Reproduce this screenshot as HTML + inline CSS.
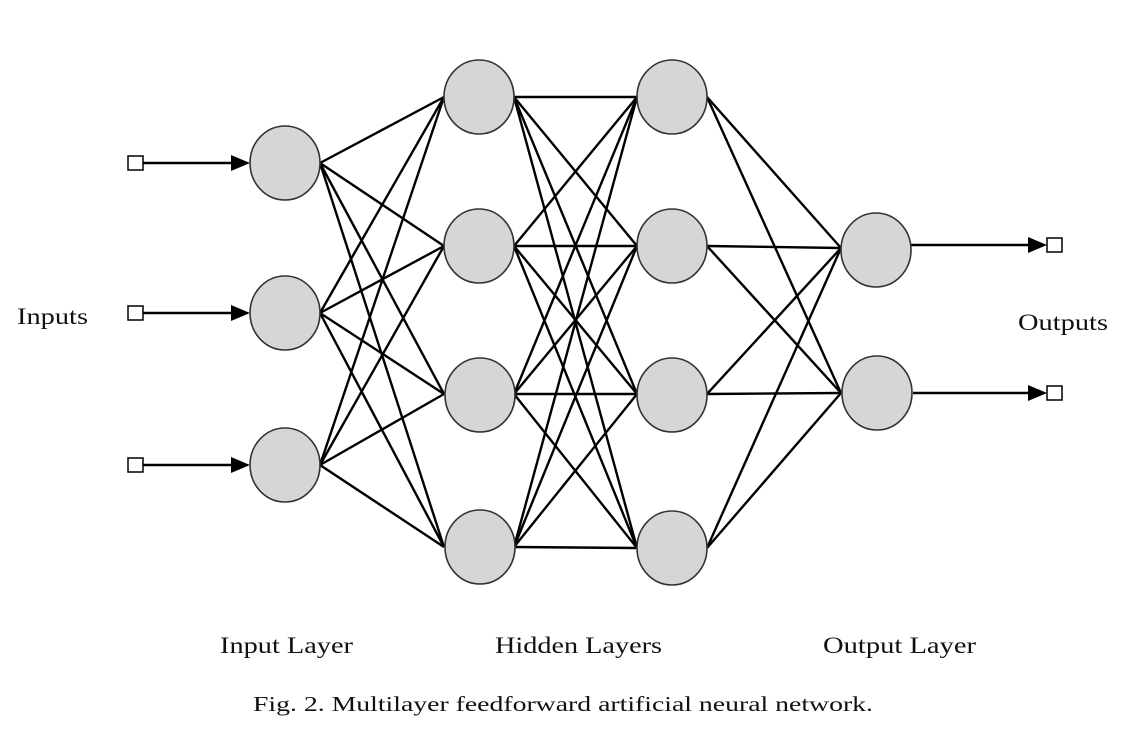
<!DOCTYPE html>
<html><head><meta charset="utf-8"><style>
html,body{margin:0;padding:0;background:#fff;}
svg{display:block;}
text{font-family:"Liberation Serif",serif;fill:#111;}
</style></head><body>
<svg width="1142" height="751" viewBox="0 0 1142 751" xmlns="http://www.w3.org/2000/svg">
<g stroke="#000" stroke-width="2.4" fill="none">
<!-- input -> hidden1 -->
<line x1="320" y1="163" x2="444" y2="97"/><line x1="320" y1="163" x2="444" y2="246"/><line x1="320" y1="163" x2="444" y2="394"/><line x1="320" y1="163" x2="444" y2="547"/>
<line x1="320" y1="313" x2="444" y2="97"/><line x1="320" y1="313" x2="444" y2="246"/><line x1="320" y1="313" x2="444" y2="394"/><line x1="320" y1="313" x2="444" y2="547"/>
<line x1="320" y1="465" x2="444" y2="97"/><line x1="320" y1="465" x2="444" y2="246"/><line x1="320" y1="465" x2="444" y2="394"/><line x1="320" y1="465" x2="444" y2="547"/>
<!-- hidden1 -> hidden2 -->
<line x1="514" y1="97" x2="637" y2="97"/><line x1="514" y1="97" x2="637" y2="246"/><line x1="514" y1="97" x2="637" y2="394"/><line x1="514" y1="97" x2="637" y2="548"/>
<line x1="514" y1="246" x2="637" y2="97"/><line x1="514" y1="246" x2="637" y2="246"/><line x1="514" y1="246" x2="637" y2="394"/><line x1="514" y1="246" x2="637" y2="548"/>
<line x1="514" y1="394" x2="637" y2="97"/><line x1="514" y1="394" x2="637" y2="246"/><line x1="514" y1="394" x2="637" y2="394"/><line x1="514" y1="394" x2="637" y2="548"/>
<line x1="514" y1="547" x2="637" y2="97"/><line x1="514" y1="547" x2="637" y2="246"/><line x1="514" y1="547" x2="637" y2="394"/><line x1="514" y1="547" x2="637" y2="548"/>
<!-- hidden2 -> output -->
<line x1="707" y1="97" x2="841" y2="248"/><line x1="707" y1="97" x2="841" y2="393"/>
<line x1="707" y1="246" x2="841" y2="248"/><line x1="707" y1="246" x2="841" y2="393"/>
<line x1="707" y1="394" x2="841" y2="248"/><line x1="707" y1="394" x2="841" y2="393"/>
<line x1="707" y1="548" x2="841" y2="248"/><line x1="707" y1="548" x2="841" y2="393"/>
<!-- input arrows -->
<line x1="143" y1="163" x2="236" y2="163"/><line x1="143" y1="313" x2="236" y2="313"/><line x1="143" y1="465" x2="236" y2="465"/>
<line x1="911" y1="245" x2="1034" y2="245"/><line x1="913" y1="393" x2="1034" y2="393"/>
</g>
<g fill="#000">
<polygon points="231,155 250,163 231,171"/><polygon points="231,305 250,313 231,321"/><polygon points="231,457 250,465 231,473"/>
<polygon points="1028,237 1047,245 1028,253"/><polygon points="1028,385 1047,393 1028,401"/>
</g>
<g fill="#fff" stroke="#000" stroke-width="1.5">
<rect x="128" y="156" width="15" height="14"/><rect x="128" y="306" width="15" height="14"/><rect x="128" y="458" width="15" height="14"/>
<rect x="1047" y="238" width="15" height="14"/><rect x="1047" y="386" width="15" height="14"/>
</g>
<g fill="#d6d6d6" stroke="#333" stroke-width="1.6">
<ellipse cx="285" cy="163" rx="35" ry="37"/><ellipse cx="285" cy="313" rx="35" ry="37"/><ellipse cx="285" cy="465" rx="35" ry="37"/>
<ellipse cx="479" cy="97" rx="35" ry="37"/><ellipse cx="479" cy="246" rx="35" ry="37"/><ellipse cx="480" cy="395" rx="35" ry="37"/><ellipse cx="480" cy="547" rx="35" ry="37"/>
<ellipse cx="672" cy="97" rx="35" ry="37"/><ellipse cx="672" cy="246" rx="35" ry="37"/><ellipse cx="672" cy="395" rx="35" ry="37"/><ellipse cx="672" cy="548" rx="35" ry="37"/>
<ellipse cx="876" cy="250" rx="35" ry="37"/><ellipse cx="877" cy="393" rx="35" ry="37"/>
</g>
<text x="17" y="324" font-size="23" textLength="71" lengthAdjust="spacingAndGlyphs">Inputs</text>
<text x="1018" y="330" font-size="23" textLength="90" lengthAdjust="spacingAndGlyphs">Outputs</text>
<text x="220" y="653" font-size="23" textLength="133" lengthAdjust="spacingAndGlyphs">Input Layer</text>
<text x="495" y="653" font-size="23" textLength="167" lengthAdjust="spacingAndGlyphs">Hidden Layers</text>
<text x="823" y="653" font-size="23" textLength="153" lengthAdjust="spacingAndGlyphs">Output Layer</text>
<text x="253" y="711" font-size="21" textLength="620" lengthAdjust="spacingAndGlyphs">Fig.  2. Multilayer feedforward artificial neural network.</text>
</svg>
</body></html>
